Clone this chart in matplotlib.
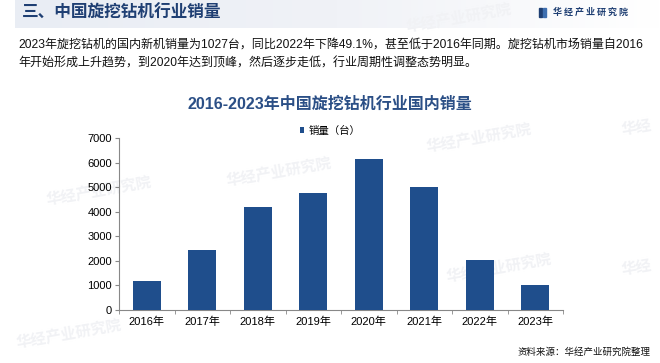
import matplotlib.pyplot as plt
from matplotlib.colors import LinearSegmentedColormap
from matplotlib.patches import Rectangle
import numpy as np

plt.rcParams['font.family'] = ['Liberation Sans', 'Noto Sans CJK SC', 'DejaVu Sans']

W, H = 660, 363

years = ['2016年', '2017年', '2018年', '2019年', '2020年', '2021年', '2022年', '2023年']
sales = [1176, 2446, 4190, 4770, 6136, 4988, 2018, 1027]
y_ticks = [0, 1000, 2000, 3000, 4000, 5000, 6000, 7000]

header_title = '三、中国旋挖钻机行业销量'
logo_text = '华 经 产 业 研 究 院'
para_lines = [
    '2023年旋挖钻机的国内新机销量为1027台，同比2022年下降49.1%，甚至低于2016年同期。旋挖钻机市场销量自2016',
    '年开始形成上升趋势，到2020年达到顶峰，然后逐步走低，行业周期性调整态势明显。',
]
chart_title = '2016-2023年中国旋挖钻机行业国内销量'
legend_label = '销量（台）'
source_text = '资料来源：华经产业研究院整理'

BAR = '#1F4E8C'
DARK_BLUE = '#1F3F73'
CJK = ['Noto Sans CJK SC', 'DejaVu Sans']
MIXED = ['Liberation Sans', 'Noto Sans CJK SC']


def fx(px):
    return px / W


def fy(py):
    return 1 - py / H


fig = plt.figure(figsize=(W / 100, H / 100), dpi=100)

# header band, fading out to the right
band = fig.add_axes([fx(15), fy(28), fx(645), 28 / H], zorder=-2)
grad = np.linspace(0, 1, 256).reshape(1, -1)
band.imshow(grad, aspect='auto', extent=[0, 1, 0, 1],
            cmap=LinearSegmentedColormap.from_list('hdr', ['#E9EDF4', '#F0F2F7', '#FFFFFF']))
band.axis('off')

# faint watermarks behind everything
wm = dict(color='#F1F2F5', fontsize=11, fontweight='bold', rotation=10, family=CJK, zorder=-1)
for x, y in [(405, 32), (425, 152), (225, 186), (445, 282), (45, 205), (15, 348)]:
    fig.text(fx(x), fy(y), '华经产业研究院', **wm)
for x, y in [(620, 135), (620, 275)]:
    fig.text(fx(x), fy(y), '华经', **wm)

fig.text(fx(22), fy(13), header_title, fontsize=12, fontweight='bold', color=DARK_BLUE,
         family=CJK, va='center')
fig.patches.append(Rectangle((fx(539), fy(17)), fx(3), 9 / H, transform=fig.transFigure,
                             color=DARK_BLUE))
fig.patches.append(Rectangle((fx(543), fy(17)), fx(3), 9 / H, transform=fig.transFigure,
                             color='#3E6FB0'))
fig.text(fx(553), fy(12.5), logo_text, fontsize=6.5, fontweight='bold', color=DARK_BLUE,
         family=CJK, va='center')

for i, line in enumerate(para_lines):
    fig.text(fx(18), fy(45 + i * 19), line, fontsize=8.65, color='#111111',
             family=MIXED, va='center')

fig.text(fx(330), fy(104), chart_title, fontsize=11.5, fontweight='bold', color='#2B4F86',
         family=MIXED, ha='center', va='center')

ax = fig.add_axes([fx(119), fy(310), fx(563 - 119), (310 - 138) / H], zorder=3)
ax.patch.set_alpha(0)
x = np.arange(len(years))
ax.bar(x, sales, width=0.5, color=BAR, label=legend_label, zorder=3)
ax.set_xlim(-0.5, len(years) - 0.5)
ax.set_ylim(0, 7000)
ax.set_yticks(y_ticks)
ax.tick_params(axis='y', labelsize=8, length=3, color='#888888', pad=2)
ax.set_xticks(x)
ax.set_xticklabels(years, fontsize=8, family=MIXED)
ax.tick_params(axis='x', length=0, pad=5)
ax.set_xticks(np.arange(len(years) + 1) - 0.5, minor=True)
ax.tick_params(axis='x', which='minor', length=3, color='#888888')
for side in ['top', 'right']:
    ax.spines[side].set_visible(False)
for side in ['left', 'bottom']:
    ax.spines[side].set_color('#888888')
    ax.spines[side].set_linewidth(0.8)

ax.legend(loc='center', bbox_to_anchor=(fx(330), fy(130.5)), bbox_transform=fig.transFigure,
          frameon=False, handlelength=0.45, handleheight=0.45, handletextpad=0.4,
          prop={'family': CJK, 'size': 7.5})

fig.text(fx(651), fy(352), source_text, fontsize=6.8, color='#111111', family=CJK,
         ha='right', va='center')

fig.savefig('out.png', dpi=100)
